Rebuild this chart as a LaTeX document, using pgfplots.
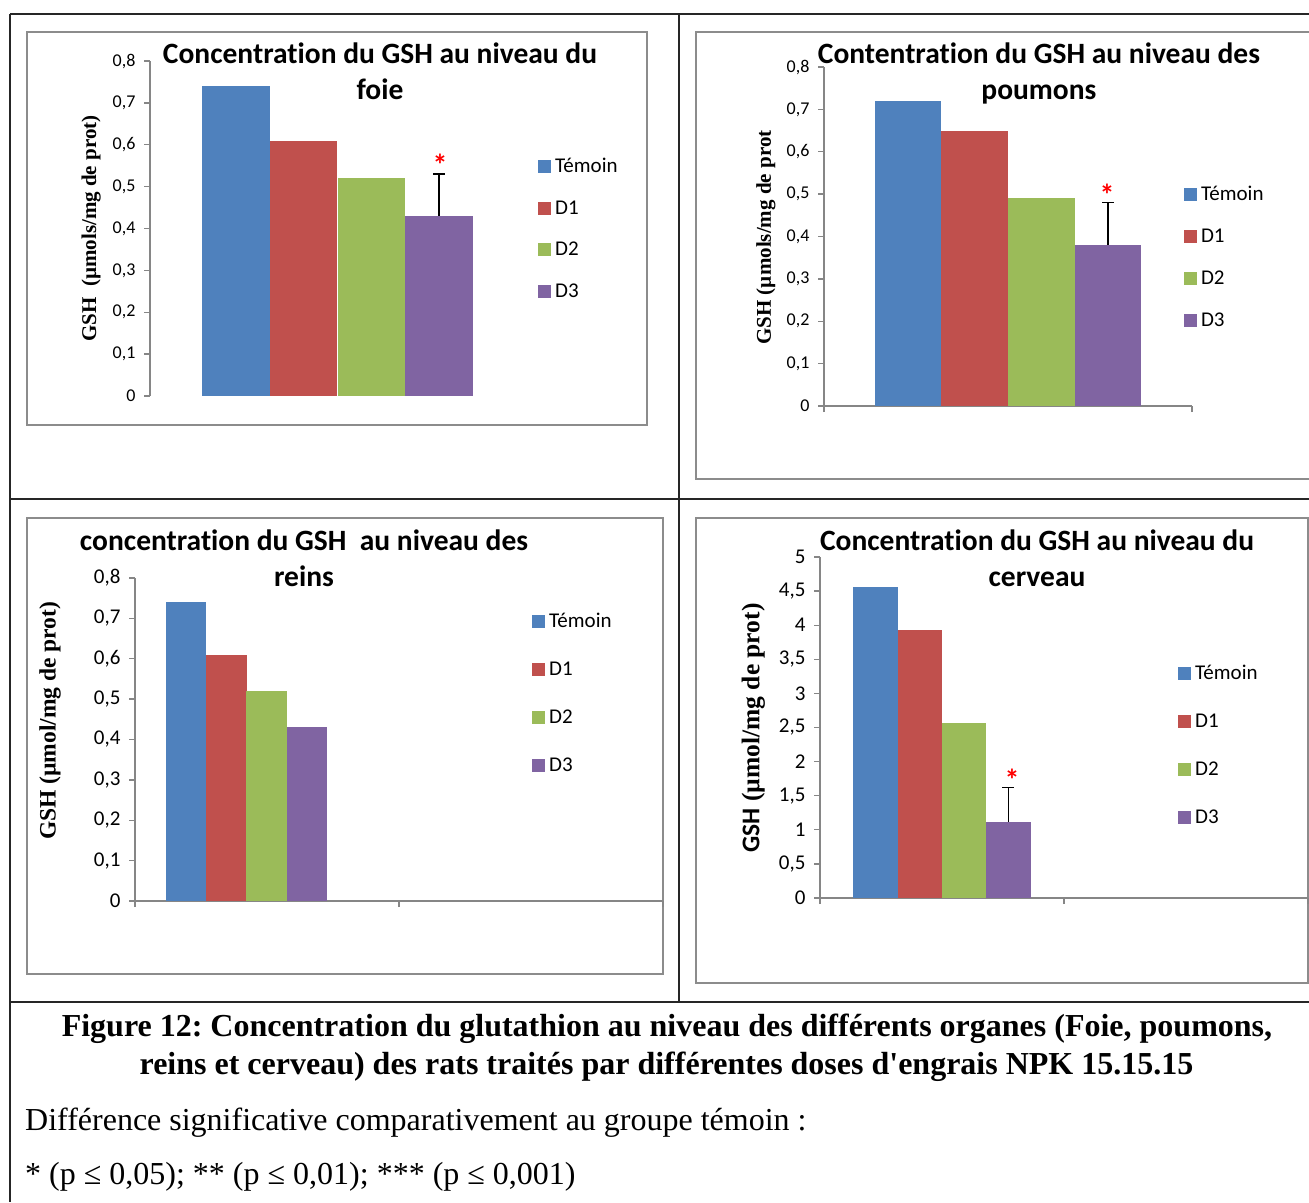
\documentclass[border=0pt]{standalone}
\usepackage{fontspec}
\setmainfont{Liberation Serif}
\newfontfamily\calibri[Ligatures=NoCommon]{Carlito}
\usepackage{pgfplots}
\pgfplotsset{compat=1.18}
\definecolor{cT}{HTML}{4F81BD}
\definecolor{cDa}{HTML}{C0504D}
\definecolor{cDb}{HTML}{9BBB59}
\definecolor{cDc}{HTML}{8064A2}
\definecolor{axg}{HTML}{868686}
\definecolor{frm}{HTML}{8C8C8C}
\newcommand\fs[2]{\fontsize{#1}{#2}\selectfont}
\newcommand\sq[1]{\addlegendimage{legend image code/.code={\fill[#1] (0pt,-6pt) rectangle (12pt,6pt);}}}
\tikzset{redstar/.style={text=red, font=\calibri\bfseries\fs{30}{30}, yshift=-5pt}}
\pgfplotsset{
  gsh/.style={
    scale only axis, anchor=south west, clip=false,
    axis y line*=left, axis x line*=bottom,
    axis line style={axg, line width=1.3pt},
    tick style={axg, line width=1.3pt},
    tick align=outside, major tick length=6pt,
    ymin=0, xmin=0, xmax=2,
    /pgf/number format/use comma,
    /pgf/number format/fixed,
    /pgf/number format/assume math mode=true,
    yticklabel style={font=\calibri\fs{18}{21}, xshift=-5pt},
    xticklabels={},
    legend cell align=left,
    legend style={draw=none, fill=none, inner sep=0pt, anchor=north west,
       nodes={inner sep=1pt, text height=17pt, text depth=4pt},
       font=\calibri\fs{21}{25}, column sep=3.5pt},
    title style={font=\calibri\bfseries\fs{29.5}{36}, align=center, anchor=center},
    ylabel style={font=\bfseries\fs{21}{25}, anchor=center},
  },
  err/.style={error bars/.cd, y dir=plus, y explicit,
    error bar style={draw=black, line width=1.6pt},
    error mark options={rotate=90, draw=black, line width=1.6pt, mark size=6pt}},
}
\frenchspacing
\begin{document}
\begin{tikzpicture}[x=1pt,y=-1pt]
\useasboundingbox (0,0) rectangle (1309,1202);
% table lines
\begin{scope}[line width=1.5pt, black!85]
\draw (10,14) -- (1309,14);
\draw (10,14) -- (10,1202);
\draw (679,14) -- (679,1002);
\draw (10,499) -- (1309,499);
\draw (10,1002) -- (1309,1002);
\end{scope}
% chart frames
\begin{scope}[line width=2.5pt, frm]
\draw (27,32) rectangle (647,425);
\draw (1312,32) -- (696,32) -- (696,479) -- (1312,479);
\draw (27,518) rectangle (663,974);
\draw (696,518) rectangle (1308,983);
\end{scope}

% ---------- chart 1 : foie
\begin{axis}[gsh, at={(150pt,-396pt)}, width=375pt, height=335pt,
  ymax=0.8, ytick={0,0.1,0.2,0.3,0.4,0.5,0.6,0.7,0.8}, xtick=\empty,
  x axis line style={draw=none},
  title={Concentration du GSH au niveau du\\foie},
  title style={at={(axis description cs:0.6133,0.9523)}},
  ylabel={GSH\ \ (µmols/mg de prot)},
  ylabel style={at={(axis description cs:-0.157,0.5)}},
  legend style={at={(axis description cs:1.0347,0.7209)}, row sep=18.5pt}]
\sq{cT}\addlegendentry{Témoin}
\sq{cDa}\addlegendentry{D1}
\sq{cDb}\addlegendentry{D2}
\sq{cDc}\addlegendentry{D3}
\addplot[ybar, bar width=67.75pt, bar shift=-101.6pt, fill=cT, draw=none, forget plot] coordinates {(1,0.74)};
\addplot[ybar, bar width=67.75pt, bar shift=-33.9pt, fill=cDa, draw=none, forget plot] coordinates {(1,0.61)};
\addplot[ybar, bar width=67.75pt, bar shift=33.9pt, fill=cDb, draw=none, forget plot] coordinates {(1,0.52)};
\addplot[ybar, bar width=67.75pt, bar shift=0pt, fill=cDc, draw=none, forget plot, err] coordinates {(1.5419,0.43) +- (0,0.10)};
\node[redstar] at (axis cs:1.547,0.5636) {*};
\end{axis}

% ---------- chart 2 : poumons
\begin{axis}[gsh, at={(824pt,-406pt)}, width=368pt, height=339pt,
  ymax=0.8, ytick={0,0.1,0.2,0.3,0.4,0.5,0.6,0.7,0.8}, xtick={0,2},
  title={Contentration du GSH au niveau des\\poumons},
  title style={at={(axis description cs:0.584,0.9632)}},
  ylabel={GSH (µmols/mg de prot},
  ylabel style={at={(axis description cs:-0.1576,0.497)}},
  legend style={at={(axis description cs:0.978,0.6593)}, row sep=19pt}]
\sq{cT}\addlegendentry{Témoin}
\sq{cDa}\addlegendentry{D1}
\sq{cDb}\addlegendentry{D2}
\sq{cDc}\addlegendentry{D3}
\addplot[ybar, bar width=66.75pt, bar shift=-100.1pt, fill=cT, draw=none, forget plot] coordinates {(1,0.72)};
\addplot[ybar, bar width=66.75pt, bar shift=-33.4pt, fill=cDa, draw=none, forget plot] coordinates {(1,0.65)};
\addplot[ybar, bar width=66.75pt, bar shift=33.4pt, fill=cDb, draw=none, forget plot] coordinates {(1,0.49)};
\addplot[ybar, bar width=66.75pt, bar shift=0pt, fill=cDc, draw=none, forget plot, err] coordinates {(1.544,0.38) +- (0,0.10)};
\node[redstar] at (axis cs:1.538,0.5097) {*};
\end{axis}

% ---------- chart 3 : reins
\begin{axis}[gsh, at={(135pt,-901pt)}, width=528pt, height=323pt,
  ymax=0.8, ytick={0,0.1,0.2,0.3,0.4,0.5,0.6,0.7,0.8}, xtick={0,1,2},
  yticklabel style={font=\calibri\fs{21}{24}},
  title={concentration du GSH~~au niveau des\\reins},
  title style={at={(axis description cs:0.3201,1.0433)}},
  ylabel={GSH (µmol/mg de prot)},
  ylabel style={at={(axis description cs:-0.161,0.558)}, font=\bfseries\fs{23.5}{27}},
  legend style={at={(axis description cs:0.7519,0.9025)}, row sep=25pt}]
\sq{cT}\addlegendentry{Témoin}
\sq{cDa}\addlegendentry{D1}
\sq{cDb}\addlegendentry{D2}
\sq{cDc}\addlegendentry{D3}
\addplot[ybar, bar width=40.25pt, bar shift=-60.4pt, fill=cT, draw=none, forget plot] coordinates {(0.4223,0.74)};
\addplot[ybar, bar width=40.25pt, bar shift=-20.1pt, fill=cDa, draw=none, forget plot] coordinates {(0.4223,0.61)};
\addplot[ybar, bar width=40.25pt, bar shift=20.1pt, fill=cDb, draw=none, forget plot] coordinates {(0.4223,0.52)};
\addplot[ybar, bar width=40.25pt, bar shift=60.4pt, fill=cDc, draw=none, forget plot] coordinates {(0.4223,0.43)};
\end{axis}

% ---------- chart 4 : cerveau
\begin{axis}[gsh, at={(820pt,-898pt)}, width=488pt, height=341pt,
  ymax=5, ytick={0,0.5,1,1.5,2,2.5,3,3.5,4,4.5,5}, xtick={0,1,2},
  yticklabel style={font=\calibri\fs{21}{24}},
  title={Concentration du GSH au niveau du\\cerveau},
  title style={at={(axis description cs:0.4447,0.978)}},
  ylabel={{\calibri GSH} (µmol/mg de prot)},
  ylabel style={at={(axis description cs:-0.1365,0.4985)}, font=\bfseries\fs{25.5}{28}},
  legend style={at={(axis description cs:0.7336,0.6944)}, row sep=25pt}]
\sq{cT}\addlegendentry{Témoin}
\sq{cDa}\addlegendentry{D1}
\sq{cDb}\addlegendentry{D2}
\sq{cDc}\addlegendentry{D3}
\addplot[ybar, bar width=44.25pt, bar shift=-66.4pt, fill=cT, draw=none, forget plot] coordinates {(0.5,4.56)};
\addplot[ybar, bar width=44.25pt, bar shift=-22.1pt, fill=cDa, draw=none, forget plot] coordinates {(0.5,3.93)};
\addplot[ybar, bar width=44.25pt, bar shift=22.1pt, fill=cDb, draw=none, forget plot] coordinates {(0.5,2.56)};
\addplot[ybar, bar width=44.25pt, bar shift=0pt, fill=cDc, draw=none, forget plot, err] coordinates {(0.7721,1.12) +- (0,0.50)};
\node[redstar] at (axis cs:0.787,1.80) {*};
\end{axis}

% caption
\node[anchor=base, inner sep=0pt, font=\bfseries\fs{32}{38}] at (667,1036) {Figure 12: Concentration du glutathion au niveau des différents organes (Foie, poumons,};
\node[anchor=base, inner sep=0pt, font=\bfseries\fs{32}{38}] at (666.5,1074) {reins et cerveau) des rats traités par différentes doses d\textquotesingle engrais NPK 15.15.15};
\node[anchor=base west, inner sep=0pt, font=\fs{32}{38}] at (25,1130) {Différence significative comparativement au groupe témoin :};
\node[anchor=base west, inner sep=0pt, font=\fs{32}{38}] at (25,1184) {* (p ≤ 0,05); ** (p ≤ 0,01); *** (p ≤ 0,001)};
\end{tikzpicture}
\end{document}
